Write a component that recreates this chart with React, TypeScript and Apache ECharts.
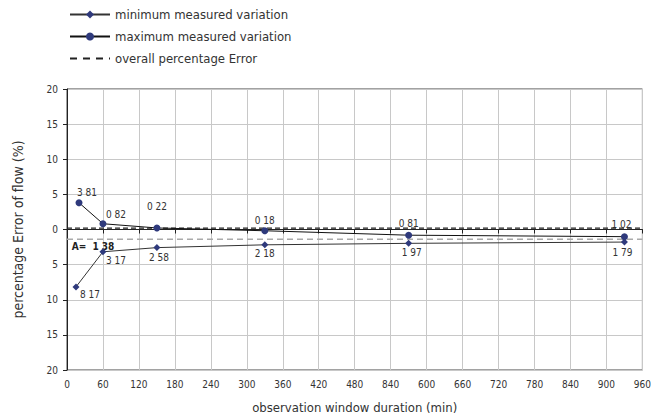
import React, { useEffect, useRef } from "react";
import * as echarts from "echarts";

const maxX = [20, 60, 150, 330, 570, 930];
const maxValues = [3.81, 0.82, 0.22, -0.18, -0.81, -1.02];
const minX = [15, 60, 150, 330, 570, 930];
const minValues = [-8.17, -3.17, -2.58, -2.18, -1.97, -1.79];
const overallError = 0.2;
const averageA = -1.38;
const xTickLabels = ["0", "60", "120", "180", "240", "300", "360", "420", "480", "840", "600", "660", "720", "780", "840", "900", "960"];

const maxLabelOffsets = [[8, 3], [13, 4], [0, -8], [0, 3], [0, 2], [-3, 1]];
const minLabelOffsets = [[14, -6], [13, -5], [2, -4], [0, -5], [3, -4], [-2, -3]];

const FONT = '"DejaVu Sans Condensed", "Liberation Sans", sans-serif';
const fmt = (v: number) => Math.abs(v).toFixed(2).replace(".", " ");

export default function App() {
  const ref = useRef<HTMLDivElement>(null);
  useEffect(() => {
    if (!ref.current) return;
    const chart = echarts.init(ref.current, null, { renderer: "svg" });
    const markerColor = "#2f3a7c";
    const labelStyle = { color: "#333", fontSize: 10, fontFamily: FONT };
    chart.setOption({
      animation: false,
      textStyle: { fontFamily: FONT },
      legend: {
        orient: "vertical",
        left: 64,
        top: 3,
        itemWidth: 40,
        itemHeight: 10,
        itemGap: 9,
        lineStyle: { width: 2 },
        data: [
          "minimum measured variation",
          "maximum measured variation",
          {
            name: "overall percentage Error",
            itemStyle: { opacity: 0 },
            lineStyle: { type: [7, 6], width: 2, color: "#222" },
          },
        ],
        textStyle: { fontSize: 13, color: "#333", fontFamily: FONT },
      },
      grid: {
        left: 67,
        right: 7,
        top: 89,
        bottom: 49,
        show: true,
        borderColor: "#444",
        borderWidth: 1,
      },
      xAxis: {
        type: "value",
        min: 0,
        max: 960,
        interval: 60,
        name: "observation window duration (min)",
        nameLocation: "middle",
        nameGap: 31,
        nameTextStyle: { fontSize: 13, color: "#333", fontFamily: FONT },
        axisLine: { lineStyle: { color: "#222" } },
        axisTick: { show: true, length: 4, lineStyle: { color: "#222" } },
        axisLabel: {
          fontSize: 10,
          color: "#333",
          margin: 9,
          fontFamily: FONT,
          formatter: (v: number) => xTickLabels[Math.round(v / 60)] ?? "",
        },
        splitLine: { show: true, lineStyle: { color: "#c8c8c8" } },
      },
      yAxis: {
        type: "value",
        min: -20,
        max: 20,
        interval: 5,
        name: "percentage Error of flow (%)",
        nameLocation: "middle",
        nameGap: 42,
        nameTextStyle: { fontSize: 14, color: "#333", fontFamily: FONT },
        axisLine: { show: true, lineStyle: { color: "#222" } },
        axisTick: { show: true, length: 4, lineStyle: { color: "#222" } },
        axisLabel: {
          fontSize: 10,
          color: "#333",
          margin: 9,
          fontFamily: FONT,
          formatter: (v: number) => String(Math.abs(v)),
        },
        splitLine: { show: true, lineStyle: { color: "#c8c8c8" } },
      },
      series: [
        {
          name: "overall percentage Error",
          type: "line",
          data: [[0, overallError], [960, overallError]],
          symbol: "none",
          lineStyle: { color: "#222", width: 1.2, type: [5, 3] },
          itemStyle: { color: "#222" },
          z: 1,
        },
        {
          name: "average",
          type: "line",
          data: [
            {
              value: [0, averageA],
              label: {
                show: true,
                position: "bottom",
                offset: [26, -3],
                formatter: "A=  " + fmt(averageA),
                fontWeight: "bold",
                fontSize: 10,
                color: "#222",
                fontFamily: FONT,
              },
            },
            [960, averageA],
          ],
          symbol: "circle",
          symbolSize: 0,
          showSymbol: true,
          label: { show: false },
          lineStyle: { color: "#aaa", width: 1.5, type: [6, 4] },
          itemStyle: { color: "#aaa" },
          z: 1,
        },
        {
          name: "minimum measured variation",
          type: "line",
          data: minValues.map((v, i) => ({
            value: [minX[i], v],
            label: { offset: minLabelOffsets[i] },
          })),
          symbol: "diamond",
          symbolSize: 7,
          lineStyle: { color: "#333", width: 1 },
          itemStyle: { color: markerColor },
          label: {
            show: true,
            position: "bottom",
            formatter: (p: any) => fmt(p.value[1]),
            ...labelStyle,
          },
          z: 3,
        },
        {
          name: "maximum measured variation",
          type: "line",
          data: maxValues.map((v, i) => ({
            value: [maxX[i], v],
            label: { offset: maxLabelOffsets[i] },
          })),
          symbol: "circle",
          symbolSize: 7,
          lineStyle: { color: "#111", width: 1 },
          itemStyle: { color: markerColor },
          label: {
            show: true,
            position: "top",
            formatter: (p: any) => fmt(p.value[1]),
            ...labelStyle,
          },
          z: 3,
        },
      ],
    });
    return () => chart.dispose();
  }, []);
  return <div ref={ref} style={{ width: 654, height: 419, position: "absolute", left: 0, top: 0 }} />;
}
